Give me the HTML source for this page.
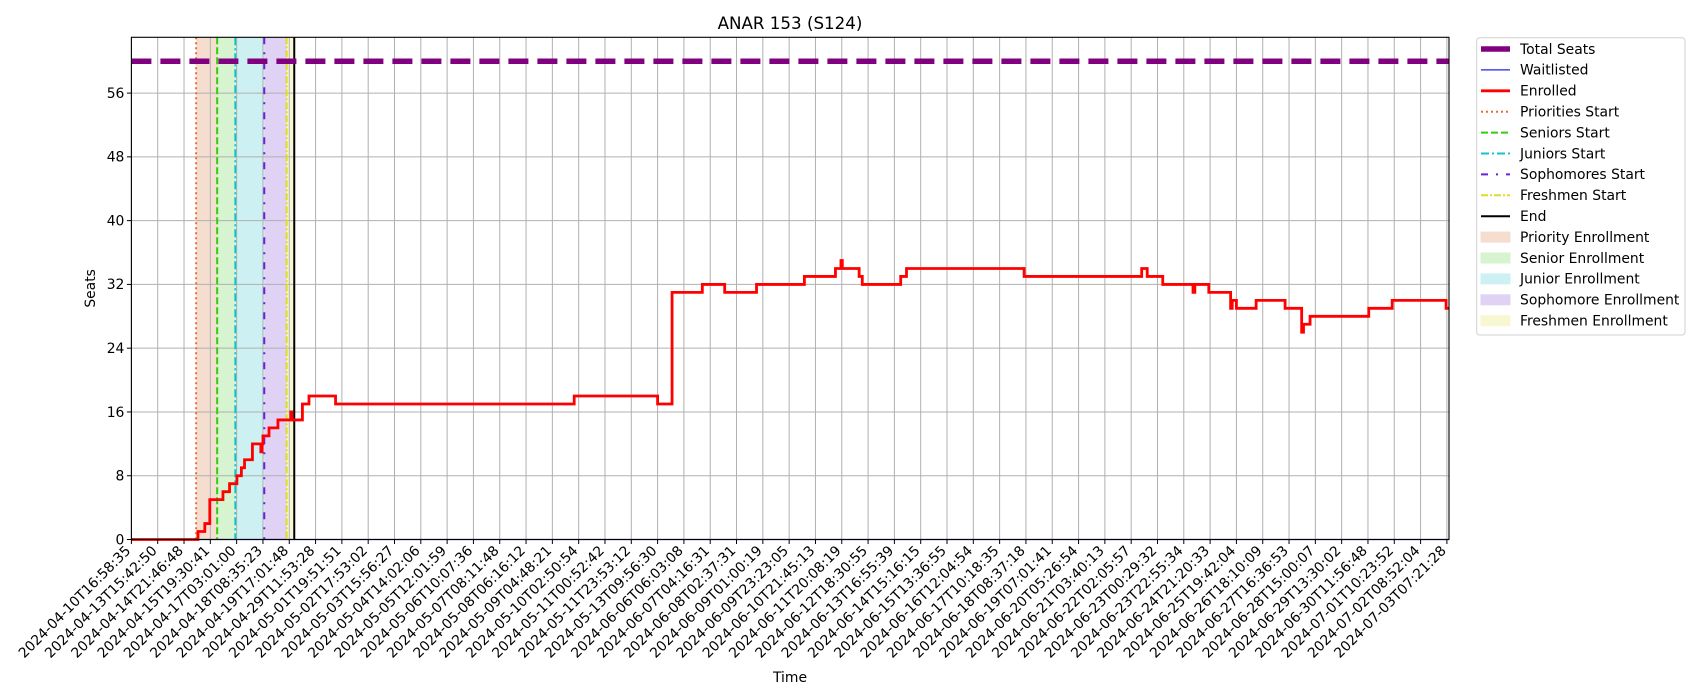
<!DOCTYPE html>
<html><head><meta charset="utf-8">
<style>
html,body{margin:0;padding:0;background:#fff;}
svg{display:block;font-family:"DejaVu Sans","Liberation Sans",sans-serif;}
</style></head>
<body>
<svg id="chart" width="1700" height="700" viewBox="0 0 1700 700" xmlns="http://www.w3.org/2000/svg">
<rect width="1700" height="700" fill="#fff"/>
<g id="spans"></g>
<g id="grid"></g>
<g id="vlines"></g>
<g id="series"></g>
<g id="axes"></g>
<g id="legend"></g>
</svg>
<script>
const tickLabels = ["2024-04-10T16:58:35","2024-04-13T15:42:50","2024-04-14T21:46:48","2024-04-15T19:30:41","2024-04-17T03:01:00","2024-04-18T08:35:23","2024-04-19T17:01:48","2024-04-29T11:53:28","2024-05-01T19:51:51","2024-05-02T17:53:02","2024-05-03T15:56:27","2024-05-04T14:02:06","2024-05-05T12:01:59","2024-05-06T10:07:36","2024-05-07T08:11:48","2024-05-08T06:16:12","2024-05-09T04:48:21","2024-05-10T02:50:54","2024-05-11T00:52:42","2024-05-11T23:53:12","2024-05-13T09:56:30","2024-06-06T06:03:08","2024-06-07T04:16:31","2024-06-08T02:37:31","2024-06-09T01:00:19","2024-06-09T23:23:05","2024-06-10T21:45:13","2024-06-11T20:08:19","2024-06-12T18:30:55","2024-06-13T16:55:39","2024-06-14T15:16:15","2024-06-15T13:36:55","2024-06-16T12:04:54","2024-06-17T10:18:35","2024-06-18T08:37:18","2024-06-19T07:01:41","2024-06-20T05:26:54","2024-06-21T03:40:13","2024-06-22T02:05:57","2024-06-23T00:29:32","2024-06-23T22:55:34","2024-06-24T21:20:33","2024-06-25T19:42:04","2024-06-26T18:10:09","2024-06-27T16:36:53","2024-06-28T15:00:07","2024-06-29T13:30:02","2024-06-30T11:56:48","2024-07-01T10:23:52","2024-07-02T08:52:04","2024-07-03T07:21:28"];
const yTicks = [0,8,16,24,32,40,48,56];
const totalSeats = 60;
const enrolledX = [0,2.53,2.79,2.98,3.48,3.73,4.01,4.18,4.30,4.60,4.92,4.97,5.0,5.23,5.57,6.06,6.10,6.5,6.75,7.76,16.83,20.0,20.55,21.7,22.55,23.76,25.58,26.76,26.97,27.02,27.66,27.78,29.24,29.46,33.93,38.4,38.61,39.2,40.35,40.42,40.6,40.95,41.78,41.84,42.0,42.75,43.85,44.48,44.55,44.8,47.03,47.92,49.97];
const enrolledY = [0,1,2,5,6,7,8,9,10,12,11,12,13,14,15,16,15,17,18,17,18,17,31,32,31,32,33,34,35,34,33,32,33,34,33,34,33,32,31,32,32,31,29,30,29,30,29,26,27,28,29,30,29];
const waitlistX = [0,50.08];
const waitlistY = [0,0];
const phaseNames = ["Priorities Start","Seniors Start","Juniors Start","Sophomores Start","Freshmen Start"];
const phaseStarts = [2.46,3.26,3.95,5.05,5.9];
const endIdx = 6.19;

const L=131.4, R=1449, T=37.3, B=539.5, XMAX=50.08, YMAX=63;
const FS=13.9;
const xs = v => L + v/XMAX*(R-L);
const ys = v => B - v/YMAX*(B-T);
const NS="http://www.w3.org/2000/svg";
function mk(tag, parent, attrs){const e=document.createElementNS(NS,tag);for(const k in attrs)e.setAttribute(k,attrs[k]);parent.appendChild(e);return e;}
const gSp=document.getElementById('spans'),gG=document.getElementById('grid'),gV=document.getElementById('vlines'),gS=document.getElementById('series'),gA=document.getElementById('axes'),gL=document.getElementById('legend');

const spanFill=["#f5ddd0","#d6f4cf","#cdf0f2","#dfd2f4","#f7f7d2"];
const spanNames=["priority-enrollment-span","senior-enrollment-span","junior-enrollment-span","sophomore-enrollment-span","freshmen-enrollment-span"];
const lineCol=["#ee6a30","#33cc11","#11c4cc","#6a22d6","#dddd22"];
const lineDash=["2,3","7,3","8,3,2,3","7,8,2,8","7,2,2,2"];
const lineNames=["priorities-start-line","seniors-start-line","juniors-start-line","sophomores-start-line","freshmen-start-line"];
for(let i=0;i<5;i++){
  const x0=xs(phaseStarts[i]), x1=xs(i<4?phaseStarts[i+1]:endIdx);
  const r=mk('rect',gSp,{x:x0,y:T,width:x1-x0,height:B-T,fill:spanFill[i]});
  
  
}
tickLabels.forEach((t,i)=>{const x=xs(i);
  const l=mk('line',gG,{x1:x,x2:x,y1:T,y2:B,stroke:'#b0b0b0','stroke-width':1});
  
  
});
yTicks.forEach(v=>{const y=ys(v);
  const l=mk('line',gG,{x1:L,x2:R,y1:y,y2:y,stroke:'#b0b0b0','stroke-width':1});
  
  
});
for(let i=0;i<5;i++){const x=xs(phaseStarts[i]);
  const l=mk('line',gV,{x1:x,x2:x,y1:T,y2:B,stroke:lineCol[i],'stroke-width':2,'stroke-dasharray':lineDash[i]});
  
  
}
{const x=xs(endIdx);
 const l=mk('line',gV,{x1:x,x2:x,y1:T,y2:B,stroke:'#000','stroke-width':2});
 
 }
{const y=ys(totalSeats);
 const l=mk('line',gS,{x1:L,x2:R,y1:y,y2:y,stroke:'#800080','stroke-width':5.5,'stroke-dasharray':'20,9'});
 
 }
function stepPath(X,Y,xEnd){let d='M'+xs(X[0])+','+ys(Y[0]);
  for(let i=1;i<X.length;i++){d+=' H'+xs(X[i])+' V'+ys(Y[i]);}
  d+=' H'+xs(xEnd);return d;}
{const p=mk('path',gS,{d:stepPath(waitlistX,waitlistY,XMAX),fill:'none',stroke:'#2222ee','stroke-width':1.3});
 
 }
{const p=mk('path',gS,{d:stepPath(enrolledX,enrolledY,XMAX),fill:'none',stroke:'#ff0000','stroke-width':2.8,'stroke-linejoin':'miter'});
 
 }
{const r=mk('rect',gA,{x:L,y:T,width:R-L,height:B-T,fill:'none',stroke:'#000','stroke-width':1.1});
 
 }
yTicks.forEach(v=>{const y=ys(v);
  mk('line',gA,{x1:L-4.5,x2:L,y1:y,y2:y,stroke:'#000','stroke-width':1});
  const t=mk('text',gA,{x:L-7,y:y+4.8,'text-anchor':'end','font-size':FS,fill:'#000'});t.textContent=v;
  
  
});
tickLabels.forEach((s,i)=>{const x=xs(i);
  mk('line',gA,{x1:x,x2:x,y1:B,y2:B+4.5,stroke:'#000','stroke-width':1});
  const t=mk('text',gA,{x:0,y:0,'text-anchor':'end','font-size':FS,fill:'#000',transform:`translate(${x},${B+12}) rotate(-45)`});t.textContent=s;
  
  
});
{const t=mk('text',gA,{x:790,y:29,'text-anchor':'middle','font-size':16.7});t.textContent='ANAR 153 (S124)';
 
 }
{const t=mk('text',gA,{x:790,y:682,'text-anchor':'middle','font-size':FS});t.textContent='Time';
 
 }
{const t=mk('text',gA,{x:0,y:0,'text-anchor':'middle','font-size':FS,transform:`translate(95,${(T+B)/2}) rotate(-90)`});t.textContent='Seats';
 
 }
{const r=mk('rect',gL,{x:1476.7,y:37.7,width:208.3,height:297.3,rx:3,fill:'#fff',stroke:'#d0d0d0','stroke-width':1});
 
 }
const legItems=[
 ['Total Seats','line','#800080',5.5,''],
 ['Waitlisted','line','#2222ee',1.3,''],
 ['Enrolled','line','#ff0000',2.8,''],
 ['Priorities Start','line',lineCol[0],2,lineDash[0]],
 ['Seniors Start','line',lineCol[1],2,lineDash[1]],
 ['Juniors Start','line',lineCol[2],2,lineDash[2]],
 ['Sophomores Start','line',lineCol[3],2,lineDash[3]],
 ['Freshmen Start','line',lineCol[4],2,lineDash[4]],
 ['End','line','#000',2,''],
 ['Priority Enrollment','patch',spanFill[0]],
 ['Senior Enrollment','patch',spanFill[1]],
 ['Junior Enrollment','patch',spanFill[2]],
 ['Sophomore Enrollment','patch',spanFill[3]],
 ['Freshmen Enrollment','patch',spanFill[4]]];
legItems.forEach((it,i)=>{const y=49+i*20.9;
  const g=mk('g',gL,{});
  
  
  if(it[1]==='line'){mk('line',g,{x1:1481,x2:1510,y1:y,y2:y,stroke:it[2],'stroke-width':it[3],'stroke-dasharray':it[4]});}
  else{mk('rect',g,{x:1481,y:y-5,width:29,height:10,fill:it[2],stroke:it[2]});}
  const t=mk('text',g,{x:1520,y:y+4.8,'font-size':FS});t.textContent=it[0];
});
</script>
</body></html>
